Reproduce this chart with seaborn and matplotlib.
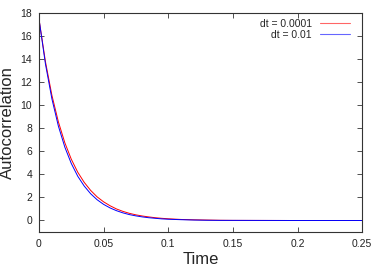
import numpy as np
import pandas as pd
import seaborn as sns
import matplotlib
matplotlib.use("Agg")
import matplotlib.pyplot as plt

# Values
time = [0.0, 0.005, 0.01, 0.015, 0.02, 0.025, 0.03, 0.035, 0.04, 0.045,
        0.05, 0.055, 0.06, 0.065, 0.07, 0.075, 0.08, 0.085, 0.09, 0.095,
        0.10, 0.11, 0.12, 0.13, 0.14, 0.15, 0.20, 0.25]
acf_small = [17.5, 13.79, 10.87, 8.57, 6.75, 5.32, 4.19, 3.31, 2.61, 2.05,
             1.62, 1.28, 1.00, 0.79, 0.62, 0.49, 0.39, 0.31, 0.24, 0.19,
             0.15, 0.09, 0.06, 0.04, 0.02, 0.01, 0.0, 0.0]
acf_large = [17.5, 13.59, 10.56, 8.20, 6.37, 4.95, 3.84, 2.99, 2.32, 1.80,
             1.40, 1.09, 0.85, 0.66, 0.51, 0.40, 0.31, 0.24, 0.19, 0.14,
             0.11, 0.07, 0.04, 0.02, 0.01, 0.01, 0.0, 0.0]
labels = ["dt = 0.0001", "dt = 0.01"]
colors = ["#ff0000", "#0000ff"]

df = pd.concat([
    pd.DataFrame({"Time": time, "acf": acf_small, "run": labels[0]}),
    pd.DataFrame({"Time": time, "acf": acf_large, "run": labels[1]}),
])

sns.set_style("ticks")
plt.rcParams["font.family"] = ["Liberation Sans", "DejaVu Sans"]

fig = plt.figure(figsize=(3.82, 2.67), dpi=100)
ax = fig.add_axes([0.102, 0.131, 0.846, 0.820])

sns.lineplot(data=df, x="Time", y="acf", hue="run", palette=colors,
             linewidth=0.7, ax=ax)

ax.set_xlim(0, 0.25)
ax.set_ylim(-1, 18)
ax.set_xticks([0, 0.05, 0.1, 0.15, 0.2, 0.25])
ax.set_xticklabels(["0", "0.05", "0.1", "0.15", "0.2", "0.25"])
ax.set_yticks(range(0, 19, 2))
ax.tick_params(direction="in", length=3.5, width=0.6, labelsize=7.5,
               top=True, right=True, pad=5, color="#333333",
               labelcolor="#222222")
for s in ax.spines.values():
    s.set_linewidth(0.8)
    s.set_color("#333333")
ax.set_xlabel("Time", fontsize=12, labelpad=2)
ax.set_ylabel("Autocorrelation", fontsize=12, labelpad=4)

leg = ax.legend(loc="upper right", bbox_to_anchor=(0.963, 0.975),
                frameon=False, markerfirst=False, fontsize=7.5,
                handlelength=2.9, handletextpad=0.8, labelspacing=0.1,
                borderaxespad=0, borderpad=0)
for h, c in zip(leg.get_lines(), colors):
    h.set_color(c)
    h.set_alpha(0.6)
    h.set_linewidth(0.8)

fig.savefig("out.png", dpi=100)
